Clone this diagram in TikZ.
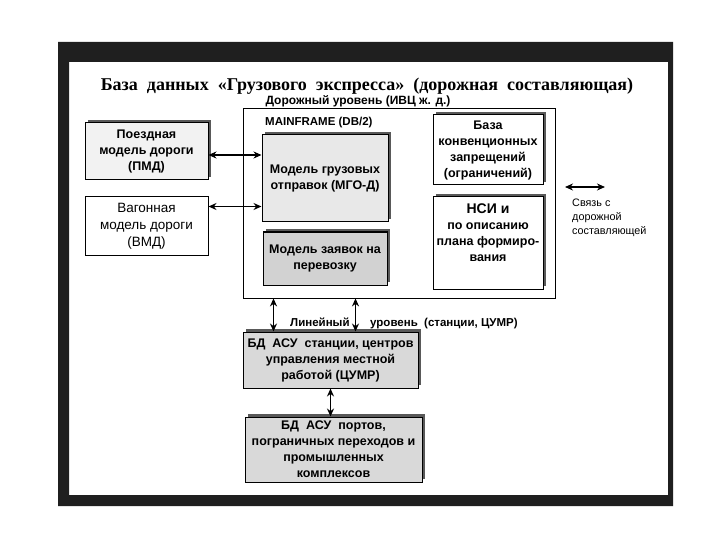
\documentclass[tikz,border=0pt]{standalone}
\usepackage{fontspec}
\setmainfont{Liberation Serif}
\setsansfont{Liberation Sans}
\usetikzlibrary{shadows, arrows.meta}

\begin{document}
\begin{tikzpicture}[x=1pt, y=-1pt, >={Stealth[length=8pt,width=7pt]},
  box/.style={draw, line width=1pt, align=center, inner sep=1pt,
    font=\sffamily\bfseries\fontsize{12.5}{16}\selectfont},
  plainbox/.style={box, font=\sffamily\fontsize{13.5}{17}\selectfont},
  shadowed/.style={general shadow={shadow xshift=3pt, shadow yshift=3pt, fill=black!65}},
  link/.style={<->, line width=1.4pt},
  lbl/.style={font=\sffamily\bfseries\fontsize{11.5}{14}\selectfont, inner sep=0pt}]
  \useasboundingbox (0,0) rectangle (720,540);
  % frame of the slide
  \fill[black!88, even odd rule] (58,42) rectangle (673,506) (69,62) rectangle (668,495);
  \node[font=\bfseries\fontsize{18}{21}\selectfont] (title) at (367,86)
    {База\ \ данных\ \ «Грузового\ \ экспресса»\ \ (дорожная\ \ составляющая)};
  \node[lbl, font=\sffamily\bfseries\fontsize{12}{14}\selectfont] (roadlbl) at (358,101) {Дорожный уровень (ИВЦ ж. д.)};
  % road level
  \node[draw, line width=0.8pt, minimum width=312pt, minimum height=190pt] (road) at (399,203) {};
  \node[lbl, anchor=west] (mainlbl) at (265,123) {MAINFRAME (DB/2)};
  \node[box, shadowed, fill=gray!10, minimum width=123pt, minimum height=57pt] (pmd) at (146.5,151.5)
    {Поездная\\модель дороги\\(ПМД)};
  \node[plainbox, fill=white, minimum width=123pt, minimum height=58pt] (vmd) at (146.5,226)
    {Вагонная\\модель дороги\\(ВМД)};
  \node[box, shadowed, fill=gray!18, minimum width=126pt, minimum height=87pt] (mgo) at (325,178.5)
    {Модель грузовых\\отправок (МГО-Д)};
  \node[box, shadowed, fill=gray!35, minimum width=124pt, minimum height=53pt] (zayav) at (325,258.5)
    {Модель заявок на\\перевозку};
  \node[box, shadowed, fill=white, minimum width=110pt, minimum height=70pt] (konv) at (488,150)
    {База\\конвенционных\\запрещений\\(ограничений)};
  \node[box, shadowed, fill=white, minimum width=110pt, minimum height=92pt] (nsi) at (488,243)
    {{\fontsize{14}{16}\selectfont НСИ и}\\по описанию\\плана формиро-\\вания\\[4pt]};
  \draw[link] (pmd.east |- 0,155) -- (mgo.west |- 0,155);
  \draw[link] ([yshift=-10pt]vmd.north east) -- ([yshift=-10pt]vmd.north east -| mgo.west);
  % link to the road part
  \coordinate (linkA) at (565,187);
  \coordinate (linkB) at (605,187);
  \draw[link] (linkA) -- (linkB);
  \node[lbl, font=\sffamily\fontsize{10.8}{14}\selectfont, anchor=north west, align=left] (linklbl) at (572,199)
    {Связь с\\дорожной\\составляющей};
  % line level
  \node[box, shadowed, fill=gray!30, minimum width=175pt, minimum height=56pt] (asu) at (330.5,360)
    {БД\ \ АСУ\ \ станции, центров\\управления местной\\работой (ЦУМР)};
  \node[box, shadowed, fill=gray!30, minimum width=177pt, minimum height=65pt] (ports) at (333.5,449.5)
    {БД\ \ АСУ\ \ портов,\\пограничных переходов и\\промышленных\\комплексов};
  \node[lbl, anchor=base west] (linlbl) at (290,326) {Линейный};
  \node[lbl, anchor=base west] (linlbl2) at (370,326) {уровень\ \ (станции, ЦУМР)};
  \draw[link] ([xshift=31pt]asu.north west) -- ([xshift=31pt]asu.north west |- road.south);
  \draw[link] ([xshift=113pt]asu.north west) -- ([xshift=113pt]asu.north west |- road.south);
  \draw[link] (asu.south) -- (asu.south |- ports.north);
\end{tikzpicture}
\end{document}
